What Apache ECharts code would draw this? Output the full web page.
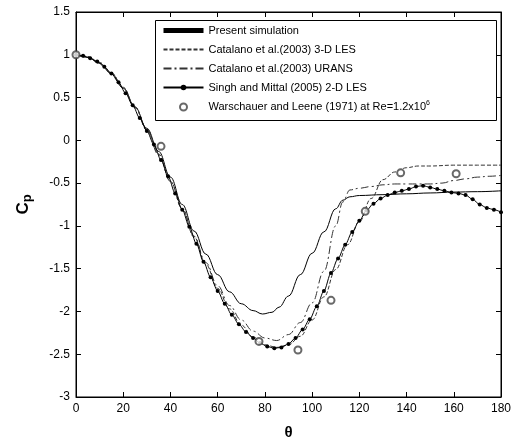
<!DOCTYPE html>
<html>
<head>
<meta charset="utf-8">
<script src="https://cdn.jsdelivr.net/npm/echarts@6/dist/echarts.min.js"></script>
<style>html,body{margin:0;padding:0;background:#fff;overflow:hidden;}#c{width:519px;height:441px;}</style>
</head>
<body>
<div id="c"></div>
<script>
// ---- data ----
const xTicks = [0, 20, 40, 60, 80, 100, 120, 140, 160, 180];
const yTicks = [-3, -2.5, -2, -1.5, -1, -0.5, 0, 0.5, 1, 1.5];

const seriesNames = [
  'Present simulation',
  'Catalano et al.(2003) 3-D LES',
  'Catalano et al.(2003) URANS',
  'Singh and Mittal (2005) 2-D LES',
  'Warschauer and Leene (1971) at Re=1.2x10^6'
];

const thetaSim = [0, 5, 10, 15, 20, 25, 30, 35, 40, 45, 50, 55, 60, 65, 70, 75, 79, 83, 86, 90, 95, 100, 105, 110, 113, 116, 120, 130, 140, 150, 160, 170, 180];
const cpSim = [1.00, 0.97, 0.90, 0.78, 0.61, 0.39, 0.14, -0.13, -0.43, -0.75, -1.06, -1.33, -1.57, -1.77, -1.91, -1.99, -2.03, -2.01, -1.95, -1.82, -1.57, -1.32, -1.07, -0.80, -0.70, -0.66, -0.645, -0.635, -0.625, -0.615, -0.605, -0.60, -0.59];

const thetaLES = [0, 5, 10, 15, 20, 25, 30, 35, 40, 45, 50, 55, 60, 65, 70, 75, 80, 85, 90, 95, 100, 105, 110, 115, 120, 125, 130, 135, 140, 145, 150, 160, 170, 180];
const cpLES = [1.00, 0.98, 0.91, 0.79, 0.62, 0.39, 0.13, -0.16, -0.48, -0.80, -1.13, -1.45, -1.73, -1.97, -2.16, -2.30, -2.39, -2.42, -2.39, -2.29, -2.10, -1.83, -1.51, -1.22, -0.95, -0.68, -0.46, -0.37, -0.32, -0.30, -0.30, -0.29, -0.29, -0.29];

const thetaURANS = [0, 5, 10, 15, 20, 25, 30, 35, 40, 45, 50, 55, 60, 65, 70, 75, 80, 85, 90, 95, 100, 105, 110, 113, 116, 120, 125, 130, 135, 140, 145, 150, 155, 160, 165, 170, 175, 180];
const cpURANS = [1.00, 0.97, 0.90, 0.78, 0.61, 0.38, 0.12, -0.17, -0.48, -0.80, -1.12, -1.43, -1.70, -1.93, -2.10, -2.23, -2.31, -2.34, -2.27, -2.13, -1.90, -1.53, -1.00, -0.72, -0.58, -0.56, -0.54, -0.52, -0.51, -0.51, -0.51, -0.51, -0.50, -0.47, -0.45, -0.43, -0.42, -0.41];

const thetaSM = [0, 3, 6, 9, 12, 15, 18, 21, 24, 27, 30, 33, 36, 39, 42, 45, 48, 51, 54, 57, 60, 63, 66, 69, 72, 75, 78, 81, 84, 87, 90, 93, 96, 99, 102, 105, 108, 111, 114, 117, 120, 123, 126, 129, 132, 135, 138, 141, 144, 147, 150, 153, 156, 159, 162, 165, 168, 171, 174, 177, 180];
const cpSM = [1.00, 0.99, 0.96, 0.92, 0.86, 0.78, 0.68, 0.55, 0.41, 0.26, 0.11, -0.05, -0.23, -0.42, -0.62, -0.81, -1.01, -1.21, -1.42, -1.60, -1.76, -1.91, -2.04, -2.15, -2.24, -2.31, -2.37, -2.41, -2.43, -2.42, -2.38, -2.31, -2.21, -2.09, -1.94, -1.76, -1.55, -1.38, -1.22, -1.07, -0.94, -0.82, -0.74, -0.68, -0.64, -0.61, -0.59, -0.57, -0.54, -0.53, -0.55, -0.57, -0.59, -0.61, -0.62, -0.64, -0.69, -0.75, -0.79, -0.81, -0.84];

const thetaExp = [0, 36, 77.5, 94, 108, 122.5, 137.5, 161];
const cpExp = [1.00, -0.07, -2.35, -2.45, -1.87, -0.83, -0.38, -0.39];

// ---- chart ----
const pairs = (xs, ys) => xs.map((x, i) => [x, ys[i]]);
const FONT = '"Liberation Sans", Arial, sans-serif';
const chart = echarts.init(document.getElementById('c'), null, {renderer: 'canvas', width: 519, height: 441});

function axisCommon() {
  return {
    show: true,
    axisLine: {show: true, onZero: false, lineStyle: {color: '#000', width: 1}},
    axisTick: {show: true, inside: true, length: 5, lineStyle: {color: '#000', width: 1}},
    splitLine: {show: false}
  };
}

const option = {
  backgroundColor: '#fff',
  animation: false,
  textStyle: {fontFamily: FONT},
  grid: {left: 76, right: 18, top: 12, bottom: 44, containLabel: false, outerBoundsMode: 'none',
    show: true, borderColor: '#000', borderWidth: 1, backgroundColor: 'rgba(0,0,0,0)'},
  xAxis: [
    Object.assign(axisCommon(), {
      type: 'value', min: xTicks[0], max: xTicks[xTicks.length - 1], interval: 20,
      position: 'bottom',
      axisLabel: {color: '#000', fontSize: 12, margin: 6, fontFamily: FONT},
      name: 'θ', nameLocation: 'middle', nameGap: 28,
      nameTextStyle: {color: '#000', fontSize: 15, fontWeight: 'bold', fontFamily: FONT}
    }),
    Object.assign(axisCommon(), {
      type: 'value', min: xTicks[0], max: xTicks[xTicks.length - 1], interval: 20,
      position: 'top', axisLabel: {show: false}
    })
  ],
  yAxis: [
    Object.assign(axisCommon(), {
      type: 'value', min: yTicks[0], max: yTicks[yTicks.length - 1], interval: 0.5,
      position: 'left',
      axisLabel: {color: '#000', fontSize: 12, margin: 6, fontFamily: FONT},
      name: '{c|C}{p|p}', nameLocation: 'middle', nameGap: 42, nameRotate: 90,
      nameTextStyle: {
        color: '#000', fontFamily: FONT,
        rich: {
          c: {fontSize: 17, fontWeight: 'bold', fontFamily: FONT, color: '#000'},
          p: {fontSize: 13, fontWeight: 'bold', fontFamily: FONT, color: '#000', padding: [8, 0, 0, 0]}
        }
      }
    }),
    Object.assign(axisCommon(), {
      type: 'value', min: yTicks[0], max: yTicks[yTicks.length - 1], interval: 0.5,
      position: 'right', axisLabel: {show: false}
    })
  ],
  graphic: [{
    type: 'rect', z: 3, silent: true,
    shape: {x: 155.5, y: 20.5, width: 341, height: 100},
    style: {fill: '#fff', stroke: '#000', lineWidth: 1}
  }],
  legend: {
    orient: 'vertical', left: 156, top: 24, z: 5,
    itemWidth: 40, itemHeight: 7, itemGap: 6,
    padding: [0, 5, 0, 5],
    textStyle: {color: '#000', fontSize: 11, lineHeight: 13, fontFamily: FONT,
      rich: {s: {fontSize: 7, fontFamily: FONT, color: '#000', padding: [0, 0, 7, 0]}}},
    formatter: function (n) { return n.replace('x10^6', 'x10{s|6}'); },
    data: [
      {name: seriesNames[0], lineStyle: {width: 5}, itemStyle: {opacity: 0}},
      {name: seriesNames[1], itemStyle: {opacity: 0}},
      {name: seriesNames[2], itemStyle: {opacity: 0}},
      {name: seriesNames[3]},
      {name: seriesNames[4], itemStyle: {borderWidth: 0.8}}
    ]
  },
  series: [
    {
      name: seriesNames[0], type: 'line', data: pairs(thetaSim, cpSim),
      symbol: 'none', smooth: 0.4, smoothMonotone: 'x',
      lineStyle: {color: '#000', width: 1}, itemStyle: {color: '#000'}, z: 3
    },
    {
      name: seriesNames[1], type: 'line', data: pairs(thetaLES, cpLES),
      symbol: 'none', smooth: 0.4, smoothMonotone: 'x',
      lineStyle: {color: '#333', width: 1, type: [4, 2]}, itemStyle: {color: '#333'}
    },
    {
      name: seriesNames[2], type: 'line', data: pairs(thetaURANS, cpURANS),
      symbol: 'none', smooth: 0.4, smoothMonotone: 'x',
      lineStyle: {color: '#333', width: 1, type: [8, 3, 2, 3]}, itemStyle: {color: '#333'}
    },
    {
      name: seriesNames[3], type: 'line', data: pairs(thetaSM, cpSM),
      symbol: 'circle', symbolSize: 4, showSymbol: true, smooth: 0.3, smoothMonotone: 'x',
      lineStyle: {color: '#000', width: 1}, itemStyle: {color: '#000'}
    },
    {
      name: seriesNames[4], type: 'scatter', data: pairs(thetaExp, cpExp),
      xAxisIndex: 1, yAxisIndex: 1,
      symbol: 'emptyCircle', symbolSize: 7,
      itemStyle: {color: '#444', borderColor: '#444', borderWidth: 0.8}, z: 4
    }
  ]
};
chart.setOption(option);
</script>
</body>
</html>
